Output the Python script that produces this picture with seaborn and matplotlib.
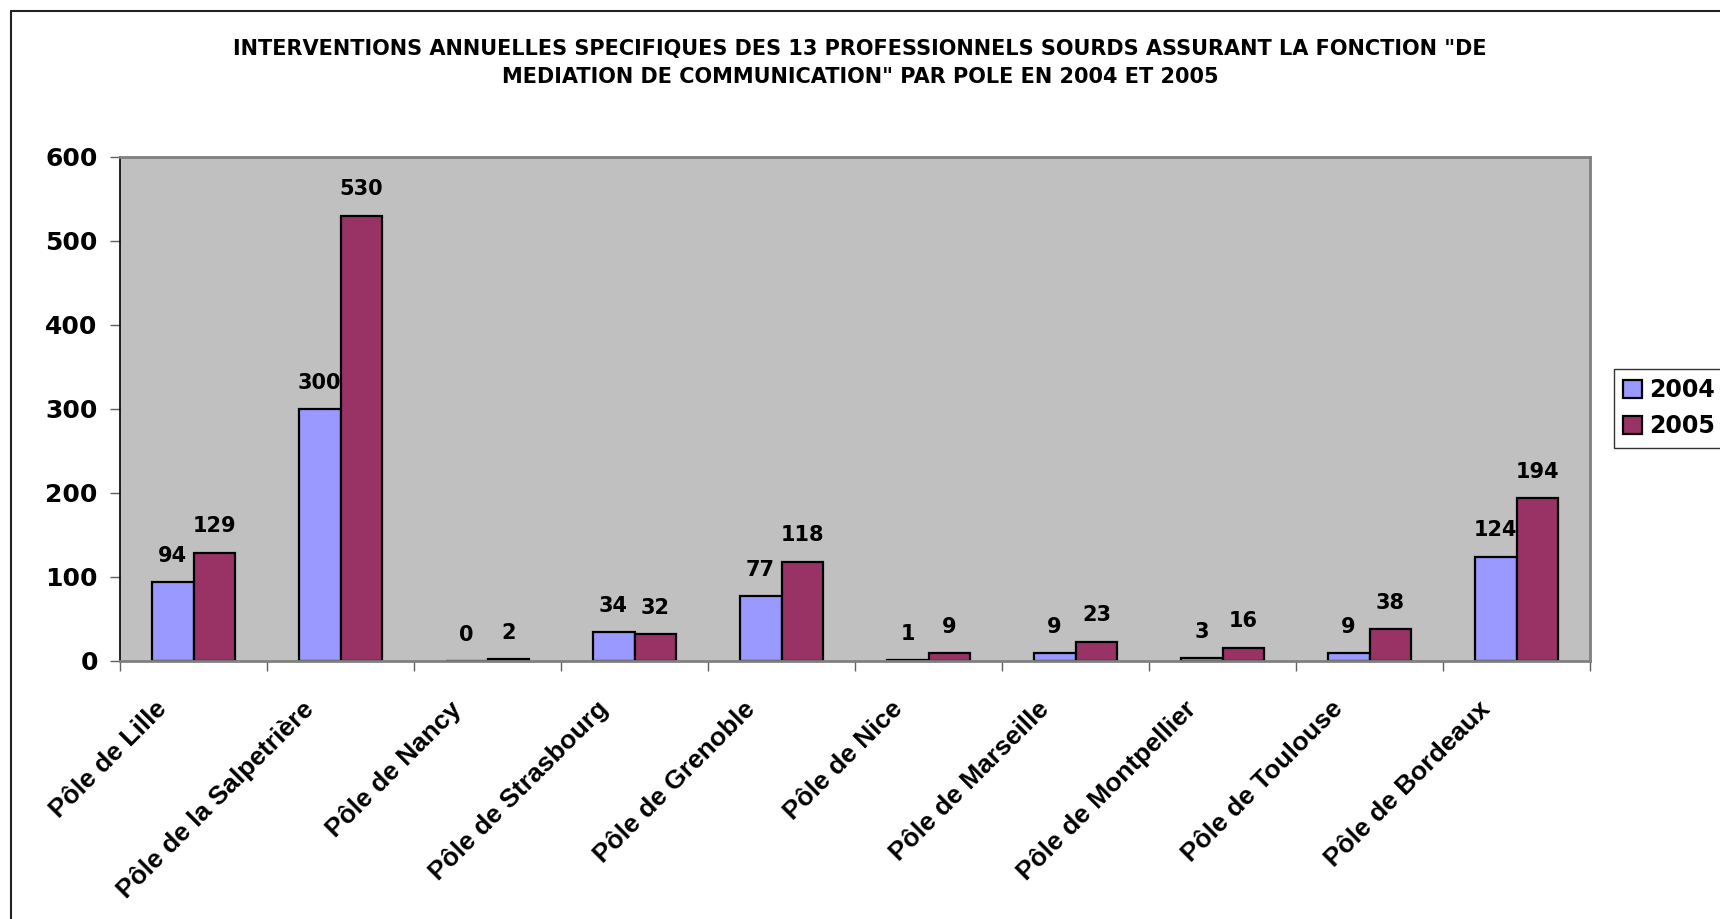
import pandas as pd
import seaborn as sns
import matplotlib.pyplot as plt
import matplotlib.transforms as mtransforms
from matplotlib.lines import Line2D

# Données du graphique
poles = ["Pôle de Lille", "Pôle de la Salpetrière", "Pôle de Nancy", "Pôle de Strasbourg",
         "Pôle de Grenoble", "Pôle de Nice", "Pôle de Marseille", "Pôle de Montpellier",
         "Pôle de Toulouse", "Pôle de Bordeaux"]
annees = ["2004", "2005"]
val_2004 = [94, 300, 0, 34, 77, 1, 9, 3, 9, 124]
val_2005 = [129, 530, 2, 32, 118, 9, 23, 16, 38, 194]
couleurs = ["#9999FF", "#993366"]

df = pd.DataFrame({
    "Pole": poles * 2,
    "Annee": [annees[0]] * len(poles) + [annees[1]] * len(poles),
    "Interventions": val_2004 + val_2005,
})

sns.set_style("white")
plt.rcParams["font.family"] = ["Liberation Sans", "DejaVu Sans"]
plt.rcParams["font.weight"] = "bold"
plt.rcParams["text.color"] = "black"
plt.rcParams["xtick.labelcolor"] = "black"
plt.rcParams["ytick.labelcolor"] = "black"
chiffres = ["DejaVu Sans"]  # police plus large pour les nombres

fig = plt.figure(figsize=(17.2, 9.19), dpi=100)
ax = fig.add_axes([120 / 1720, 1 - 661 / 919, 1470 / 1720, 504 / 919])

sns.barplot(data=df, x="Pole", y="Interventions", hue="Annee", palette=couleurs,
            width=0.57, gap=0, edgecolor="black", linewidth=1.6, saturation=1, ax=ax)

ax.set_facecolor("#C0C0C0")
ax.set_xlim(-0.5, len(poles) - 0.5)
ax.set_ylim(0, 600)
ax.set_yticks(range(0, 601, 100))
ax.set_xlabel("")
ax.set_ylabel("")

# étiquettes de valeurs
for cont in ax.containers:
    for bar in cont:
        h = bar.get_height()
        ax.annotate(f"{int(h)}", (bar.get_x() + bar.get_width() / 2, h),
                    xytext=(0, 19), textcoords="offset points", ha="center", va="center",
                    fontsize=15, fontweight="bold", family=chiffres, color="black")

for s in ["top", "right", "bottom"]:
    ax.spines[s].set_color("#808080")
    ax.spines[s].set_linewidth(2)
ax.spines["left"].set_color("black")
ax.spines["left"].set_linewidth(1.2)

ax.tick_params(axis="y", direction="out", length=7, width=1, color="#606060",
               labelsize=18, pad=9, left=True, labelcolor="black")
for t in ax.get_yticklabels():
    t.set_fontweight("bold")
    t.set_family(chiffres)

# graduations entre les catégories
ax.set_xticks([i - 0.5 for i in range(len(poles) + 1)], minor=True)
ax.tick_params(axis="x", which="minor", direction="out", length=7, width=1,
               color="#606060", bottom=True)
ax.tick_params(axis="x", which="major", length=0, pad=32, labelsize=19, labelcolor="black")
decal = mtransforms.ScaledTranslation(-30 / 100, 0, fig.dpi_scale_trans)
for t in ax.get_xticklabels():
    t.set_rotation(45)
    t.set_ha("right")
    t.set_va("center")
    t.set_rotation_mode("anchor")
    t.set_fontweight("bold")
    t.set_transform(t.get_transform() + decal)

fig.text(0.5, 1 - 49 / 919,
         'INTERVENTIONS ANNUELLES SPECIFIQUES DES 13 PROFESSIONNELS SOURDS ASSURANT LA FONCTION "DE',
         ha="center", va="center", fontsize=15, fontweight="bold", family=chiffres)
fig.text(0.5, 1 - 77 / 919, 'MEDIATION DE COMMUNICATION" PAR POLE EN 2004 ET 2005',
         ha="center", va="center", fontsize=15, fontweight="bold", family=chiffres)

leg = ax.legend(title=None, loc="upper left", bbox_to_anchor=(1614 / 1720, 1 - 369 / 919),
                bbox_transform=fig.transFigure, frameon=True, fancybox=False,
                edgecolor="black", fontsize=17, handlelength=0.8, handleheight=0.8,
                handletextpad=0.3, borderpad=0.4, labelspacing=0.5, borderaxespad=0)
leg.get_frame().set_linewidth(1)
for t in leg.get_texts():
    t.set_fontweight("bold")
    t.set_family(chiffres)
    t.set_color("black")

# cadre du graphique
fig.add_artist(Line2D([11 / 1720, 11 / 1720], [0, 1 - 11 / 919], transform=fig.transFigure,
                      color="#222222", lw=1.5))
fig.add_artist(Line2D([11 / 1720, 1], [1 - 11 / 919, 1 - 11 / 919], transform=fig.transFigure,
                      color="#222222", lw=1.5))

fig.savefig("out.png", dpi=100)
